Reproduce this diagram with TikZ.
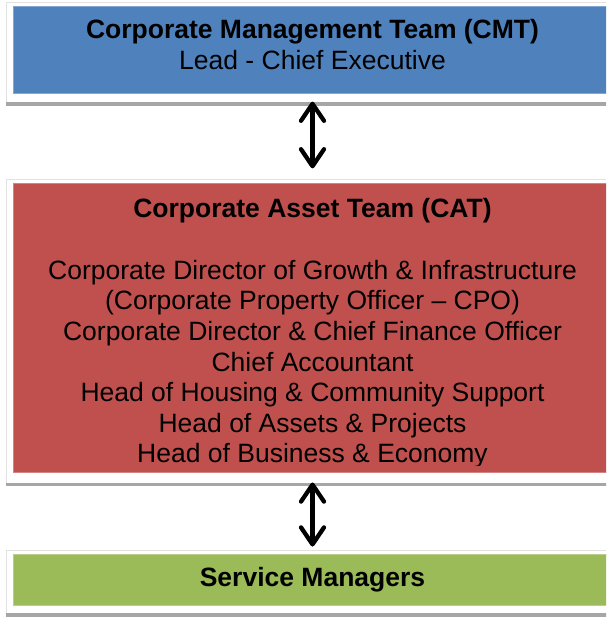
\documentclass[tikz,border=0pt]{standalone}
\usepackage{fontspec}
\setmainfont{Liberation Sans}
\usetikzlibrary{arrows.meta}
\definecolor{cmtblue}{HTML}{4F81BD}
\definecolor{catred}{HTML}{C0504D}
\definecolor{svcgreen}{HTML}{9BBB59}
\definecolor{rulegray}{HTML}{A6A6A6}
\definecolor{framegray}{HTML}{E2E2E2}

\begin{document}
\begin{tikzpicture}[x=1pt,y=-1pt,
  panel/.style={draw=framegray, line width=0.8pt, fill=white, anchor=north west, inner sep=0pt},
  band/.style={anchor=north west, inner sep=0pt, draw=#1!70!white, line width=0.8pt, fill=#1},
  shelf/.style={draw=rulegray, line width=3.6pt},
  txt/.style={font=\fontsize{26.5}{30.6}\selectfont, anchor=base, inner sep=0pt},
  ttl/.style={font=\fontsize{26.5}{30.6}\selectfont\bfseries, anchor=base, inner sep=0pt},
  barb/.tip={Straight Barb[length=17pt,width=23pt,round]},
  link/.style={line width=4.2pt, barb-barb},
  linkshadow/.style={link, draw=black!30, xshift=2.2pt, yshift=-2.5pt}
]
\useasboundingbox (0,0) rectangle (606,617);
\clip (0,0) rectangle (606,617);

% white panels with a grey shelf under each
\node[panel, minimum width=620pt, minimum height=101pt] (cmtpanel) at (5.5,2) {};
\node[panel, minimum width=620pt, minimum height=304.6pt] (catpanel) at (5.5,179) {};
\node[panel, minimum width=620pt, minimum height=64pt] (svcpanel) at (5.5,550) {};
\draw[shelf] (cmtpanel.south west) -- (cmtpanel.south east);
\draw[shelf] (catpanel.south west) -- (catpanel.south east);
\draw[shelf] (svcpanel.south west) -- (svcpanel.south east);

% coloured team bands
\node[band=cmtblue, minimum width=610pt, minimum height=87.3pt] (cmt) at (13.3,6) {};
\node[band=catred, minimum width=610pt, minimum height=289pt] (cat) at (13.3,183.3) {};
\node[band=svcgreen, minimum width=610pt, minimum height=51pt] (svc) at (13.3,554) {};

% Corporate Management Team
\node[ttl] (cmttitle) at (312.5,38.7) {Corporate Management Team (CMT)};
\node[txt] (cmtlead) at (312.5,70) {Lead - Chief Executive};

% Corporate Asset Team
\node[ttl] (cattitle) at (312.5,217.3) {Corporate Asset Team (CAT)};
\begin{scope}
  \clip (0,0) rectangle (606,465);
  \node[txt] (cat1) at (312.5,279.3) {Corporate Director of Growth \& Infrastructure};
  \node[txt] (cat2) at (312.5,309.9) {(Corporate Property Officer – CPO)};
  \node[txt] (cat3) at (312.5,340.5) {Corporate Director \& Chief Finance Officer};
  \node[txt] (cat4) at (312.5,371.1) {Chief Accountant};
  \node[txt] (cat5) at (312.5,401.7) {Head of Housing \& Community Support};
  \node[txt] (cat6) at (312.5,432.3) {Head of Assets \& Projects};
  \node[txt] (cat7) at (312.5,462.7) {Head of Business \& Economy};
\end{scope}

% Service Managers
\node[ttl] (svctitle) at (312.5,586.7) {Service Managers};

% two-way links between the tiers
\coordinate (lk1a) at (312.5,101.7);
\coordinate (lk1b) at (312.5,168.3);
\coordinate (lk2a) at (312.5,482.5);
\coordinate (lk2b) at (312.5,546.5);
\draw[linkshadow] (lk1a) -- (lk1b);
\draw[linkshadow] (lk2a) -- (lk2b);
\draw[link] (lk1a) -- (lk1b);
\draw[link] (lk2a) -- (lk2b);
\end{tikzpicture}
\end{document}
